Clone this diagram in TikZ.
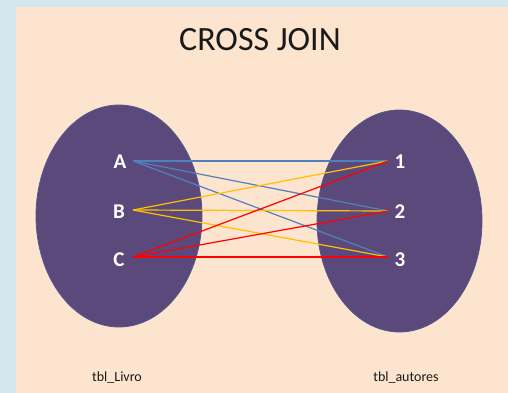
\documentclass[tikz,border=0pt]{standalone}
\usepackage{fontspec}
\setmainfont{Carlito}
\usetikzlibrary{shapes.geometric}
\definecolor{bgblue}{RGB}{214,230,238}
\definecolor{peach}{RGB}{253,228,206}
\definecolor{setfill}{RGB}{92,73,124}
\definecolor{setedge}{RGB}{82,88,140}
\definecolor{lblue}{RGB}{79,129,189}
\definecolor{lyellow}{RGB}{255,192,0}
\definecolor{lred}{RGB}{255,0,0}
\definecolor{txt}{RGB}{25,25,25}
\tikzset{
  setshape/.style={ellipse, fill=setfill, draw=setedge, line width=0.8pt, inner sep=0pt},
  elem/.style={text=white, font=\fontsize{21}{21}\selectfont\bfseries},
  tablabel/.style={text=txt, font=\fontsize{14}{14}\selectfont},
  bl/.style={draw=lblue, line width=1.2pt},
  yl/.style={draw=lyellow, line width=1.2pt},
  rl/.style={draw=lred, line width=1.2pt}
}
\begin{document}
\begin{tikzpicture}[x=1pt,y=-1pt]
\useasboundingbox (0,0) rectangle (508,393);
\fill[bgblue] (0,0) rectangle (508,393);
\fill[peach] (16,7) rectangle (508,393);
\node[text=txt, font=\fontsize{34}{34}\selectfont] (title) at (260,40) {CROSS JOIN};
\node[setshape, minimum width=166pt, minimum height=222pt] (setL) at (119,216) {};
\node[setshape, minimum width=165pt, minimum height=222pt] (setR) at (399.5,221) {};
\node[elem] (A) at (120,162) {A};
\node[elem] (B) at (119,212) {B};
\node[elem] (C) at (119,260) {C};
\node[elem] (n1) at (400,162) {1};
\node[elem] (n2) at (400,212) {2};
\node[elem] (n3) at (400,260) {3};
\coordinate (pA) at (133,161);
\coordinate (pB) at (133,210);
\coordinate (pC) at (133,257);
\coordinate (p1) at (388,161);
\coordinate (p2) at (388,211);
\coordinate (p3) at (388,257);
\draw[bl] (pA) -- (p1);
\draw[bl] (pA) -- (p2);
\draw[bl] (pA) -- (p3);
\draw[yl] (pB) -- (p1);
\draw[yl] (pB) -- (p2);
\draw[yl] (pB) -- (p3);
\draw[rl] (pC) -- (p1);
\draw[rl] (pC) -- (p2);
\draw[rl] (pC) -- (p3);
\node[tablabel] (t1) at (117,378) {tbl\_Livro};
\node[tablabel] (t2) at (406,378) {tbl\_autores};
\end{tikzpicture}
\end{document}
